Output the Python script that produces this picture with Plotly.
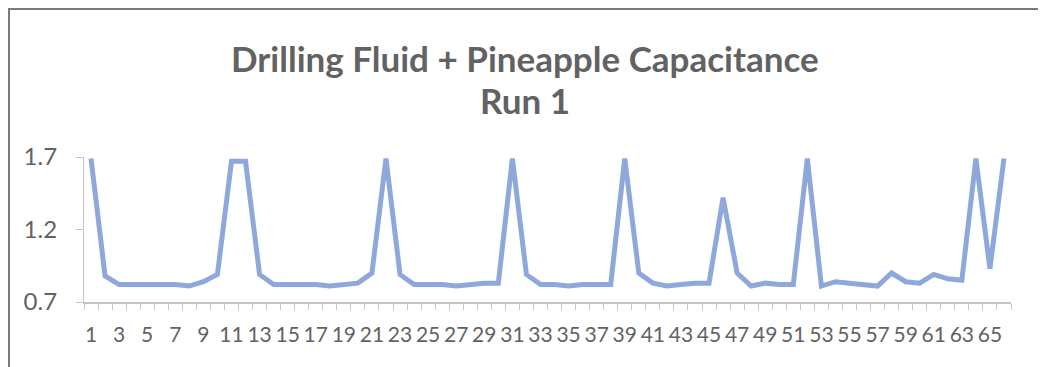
import plotly.graph_objects as go

# Datos
muestras = list(range(1, 67))
capacitancia = [
    1.69, 0.88, 0.82, 0.82, 0.82, 0.82, 0.82, 0.81, 0.84, 0.89,
    1.67, 1.67, 0.89, 0.82, 0.82, 0.82, 0.82, 0.81, 0.82, 0.83,
    0.90, 1.69, 0.89, 0.82, 0.82, 0.82, 0.81, 0.82, 0.83, 0.83,
    1.69, 0.89, 0.82, 0.82, 0.81, 0.82, 0.82, 0.82, 1.69, 0.90,
    0.83, 0.81, 0.82, 0.83, 0.83, 1.42, 0.90, 0.81, 0.83, 0.82,
    0.82, 1.69, 0.81, 0.84, 0.83, 0.82, 0.81, 0.90, 0.84, 0.83,
    0.89, 0.86, 0.85, 1.69, 0.93, 1.69,
]
etiquetas_x = [str(n) for n in range(1, 67, 2)]
ticks_y = [0.7, 1.2, 1.7]

titulo = 'Drilling Fluid + Pineapple Capacitance'
subtitulo = 'Run 1'

gris_texto = '#626262'
gris_eje = '#c4c4c4'

fig = go.Figure(go.Scatter(x=muestras, y=capacitancia, mode='lines',
                           line=dict(color='#8fa8dc', width=5)))

# la página tiene 8 px de margen en el body, se compensa aquí
fig.update_layout(
    width=1046, height=367,
    margin=dict(l=76, r=43, t=149, b=73),
    paper_bgcolor='white', plot_bgcolor='white',
    showlegend=False,
    font=dict(family='Lato', color=gris_texto),
)

fig.update_xaxes(
    range=[0.5, 66.5], showgrid=False, zeroline=False,
    showline=True, linecolor=gris_eje, linewidth=1.5,
    tickmode='array', tickvals=list(range(1, 67, 2)), ticktext=etiquetas_x,
    ticks='outside', ticklen=0, ticklabelstandoff=13,
    tickfont=dict(size=21, color=gris_texto),
    minor=dict(tickmode='array', tickvals=[k + 0.5 for k in range(0, 67)],
               ticks='outside', ticklen=6, tickcolor=gris_eje, tickwidth=1.2),
)
fig.update_yaxes(
    range=[0.7, 1.7], showgrid=False, zeroline=False,
    showline=True, linecolor=gris_eje, linewidth=1.2,
    tickvals=ticks_y, ticktext=['0.7', '1.2', '1.7'],
    ticks='outside', ticklen=7, tickcolor=gris_eje,
    ticklabelstandoff=14,
    tickfont=dict(size=24, color=gris_texto),
)

# Título en dos líneas
fig.add_annotation(text=f'<b>{titulo}</b>', xref='paper', yref='paper',
                   x=0.4757, y=1.683, xanchor='center', yanchor='middle',
                   showarrow=False, font=dict(size=35, color=gris_texto, family='Lato'))
fig.add_annotation(text=f'<b>{subtitulo}</b>', xref='paper', yref='paper',
                   x=0.4757, y=1.393, xanchor='center', yanchor='middle',
                   showarrow=False, font=dict(size=35, color=gris_texto, family='Lato'))

# Marco exterior del gráfico
fig.add_shape(type='rect', xref='paper', yref='paper',
              x0=-0.0809, x1=1.0313, y0=-0.6, y1=2.0207,
              line=dict(color='#7a7a7a', width=2), fillcolor='rgba(0,0,0,0)', layer='below')

fig.write_html('out.html')
